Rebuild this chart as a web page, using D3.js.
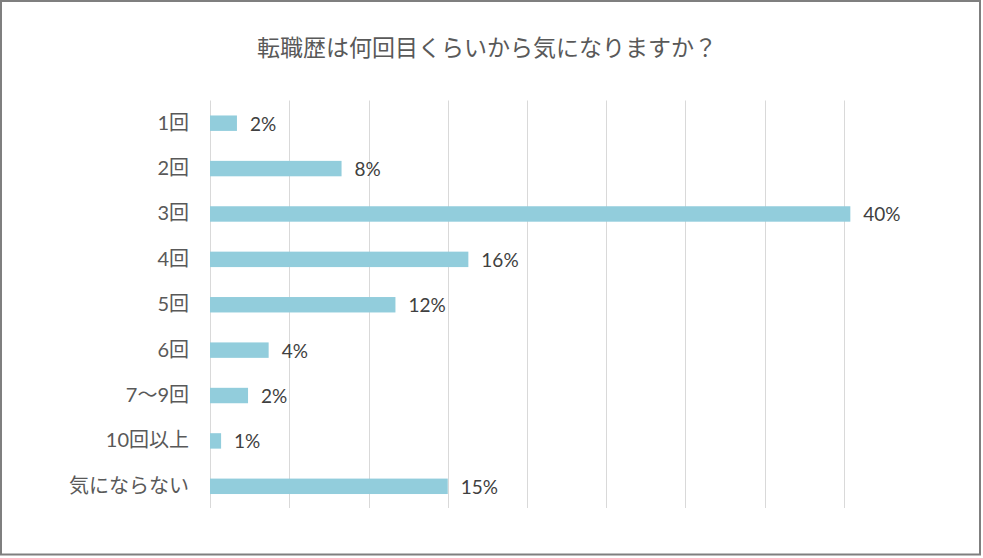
<!DOCTYPE html>
<html>
<head>
<meta charset="utf-8">
<script src="https://cdn.jsdelivr.net/npm/d3@7"></script>
<style>
  html, body { margin: 0; padding: 0; background: #fff; }
  svg { display: block; }
</style>
</head>
<body>
<svg id="chart" width="983" height="558"></svg>
<script>
// ---- data ----
const title = "転職歴は何回目くらいから気になりますか？";
const categories = ["1回", "2回", "3回", "4回", "5回", "6回", "7〜9回", "10回以上", "気にならない"];
const values = [0.017, 0.083, 0.404, 0.163, 0.117, 0.037, 0.024, 0.007, 0.150];
const xTicks = [0, 0.05, 0.10, 0.15, 0.20, 0.25, 0.30, 0.35, 0.40];

// ---- layout ----
const svg = d3.select("#chart");
const plot = { left: 210, right: 844, top: 100.5, bottom: 509 };
const fontLatin = "Lato, 'Noto Sans CJK JP', sans-serif";

svg.append("rect")
  .attr("x", 1).attr("y", 1).attr("width", 979).attr("height", 553.5)
  .attr("fill", "#fff").attr("stroke", "#7f7f7f").attr("stroke-width", 2);

const x = d3.scaleLinear().domain([0, 0.40]).range([plot.left, plot.right]);
const y = d3.scaleBand().domain(categories).range([plot.top, plot.bottom])
  .paddingInner(0.66).paddingOuter(0.33);

// gridlines
svg.append("g").selectAll("line").data(xTicks).join("line")
  .attr("x1", d => Math.round(x(d)) + 0.5).attr("x2", d => Math.round(x(d)) + 0.5)
  .attr("y1", plot.top).attr("y2", plot.bottom - 1)
  .attr("stroke", "#d9d9d9").attr("stroke-width", 1);

// category axis
const yAxis = d3.axisLeft(y).tickSize(0).tickPadding(21);
const gy = svg.append("g").attr("transform", `translate(${plot.left},0)`).call(yAxis);
gy.select(".domain").remove();
gy.selectAll("text")
  .attr("fill", "#595959")
  .style("font-family", fontLatin)
  .style("font-size", "20px");

// bars
svg.append("g").selectAll("rect").data(categories).join("rect")
  .attr("x", x(0))
  .attr("y", d => y(d))
  .attr("width", (d, i) => x(values[i]) - x(0))
  .attr("height", y.bandwidth())
  .attr("fill", "#92cddc");

// data labels
const fmt = d3.format(".0%");
svg.append("g").selectAll("text").data(categories).join("text")
  .attr("x", (d, i) => x(values[i]) + 13)
  .attr("y", d => y(d) + y.bandwidth() / 2)
  .attr("dominant-baseline", "central")
  .attr("fill", "#404040")
  .style("font-family", fontLatin)
  .style("font-size", "19px")
  .text((d, i) => fmt(values[i]));

// title
svg.append("text")
  .attr("x", 487).attr("y", 46)
  .attr("text-anchor", "middle")
  .attr("dominant-baseline", "central")
  .attr("fill", "#595959")
  .style("font-family", "'Noto Sans CJK JP', sans-serif")
  .style("font-size", "23px")
  .text(title);
</script>
</body>
</html>
